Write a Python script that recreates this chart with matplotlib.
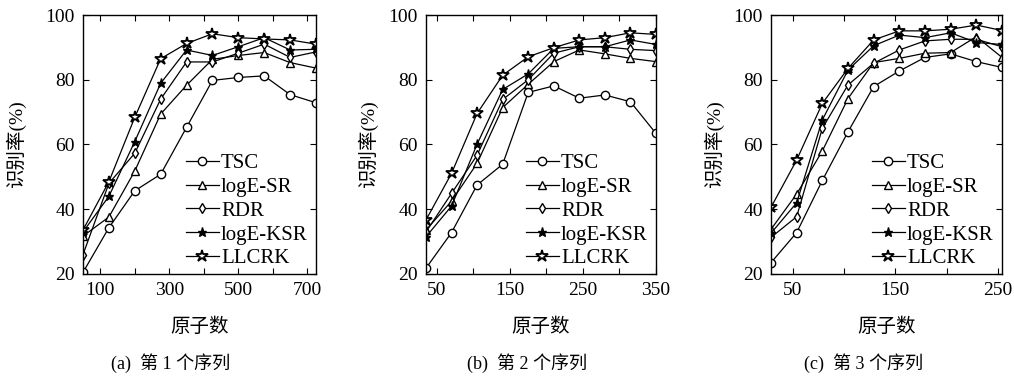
import matplotlib
matplotlib.use("Agg")
import matplotlib.pyplot as plt

plt.rcParams['font.family'] = ['Liberation Serif', 'Noto Sans CJK SC']

# data
x_a = [50, 125, 200, 275, 350, 425, 500, 575, 650, 725]
a_tsc = [20.5, 34.3, 45.7, 50.8, 65.3, 79.8, 80.7, 81.2, 75.4, 72.9]
a_sr = [31.7, 37.6, 51.8, 69.4, 78.3, 86.3, 87.5, 88.4, 85.3, 83.6]
a_rdr = [26.0, 48.0, 57.3, 74.0, 85.5, 85.5, 88.2, 91.0, 86.9, 88.6]
a_ksr = [33.0, 44.0, 60.9, 78.9, 89.2, 87.5, 90.2, 93.0, 89.2, 89.4]
a_llc = [33.6, 48.5, 68.4, 86.5, 91.2, 94.2, 93.0, 92.6, 92.3, 91.0]

x_b = [35, 70, 105, 140, 175, 210, 245, 280, 315, 350]
b_tsc = [21.8, 32.8, 47.5, 53.9, 76.1, 78.1, 74.3, 75.3, 73.2, 63.4]
b_sr = [33.6, 42.5, 54.2, 71.4, 78.6, 85.6, 89.2, 88.0, 86.6, 85.6]
b_rdr = [33.0, 44.9, 56.7, 73.9, 80.0, 88.2, 90.2, 90.2, 89.4, 89.0]
b_ksr = [31.5, 41.0, 60.1, 77.0, 81.8, 89.7, 90.2, 90.2, 92.3, 90.9]
b_llc = [36.7, 51.1, 69.6, 81.4, 87.1, 89.9, 92.3, 93.0, 94.5, 94.0]

x_c = [29, 54, 79, 104, 129, 154, 179, 204, 229, 254]
c_tsc = [23.5, 32.8, 48.9, 63.9, 77.9, 82.7, 86.9, 88.0, 85.6, 83.8]
c_sr = [33.8, 44.7, 58.0, 74.2, 85.3, 86.6, 88.2, 88.4, 93.3, 86.9]
c_rdr = [31.3, 37.7, 65.0, 78.4, 85.1, 89.2, 92.0, 92.5, 92.5, 90.2]
c_ksr = [32.6, 42.0, 67.6, 83.0, 90.5, 93.8, 93.0, 94.5, 91.5, 90.9]
c_llc = [40.6, 55.2, 72.7, 83.5, 92.3, 95.1, 95.1, 95.6, 96.9, 95.2]

namen = ['TSC', 'logE-SR', 'RDR', 'logE-KSR', 'LLCRK']
stil = [
    dict(marker='o', ms=6, mfc='white'),
    dict(marker='^', ms=6, mfc='white'),
    dict(marker='d', ms=5.5, mfc='white'),
    dict(marker='*', ms=6.5, mfc='black'),
    dict(marker='*', ms=9, mfc='white', mew=1.3),
]

paneler = [
    (x_a, [a_tsc, a_sr, a_rdr, a_ksr, a_llc], [50, 725], range(100, 701, 100), [100, 300, 500, 700], '(a)  第 1 个序列'),
    (x_b, [b_tsc, b_sr, b_rdr, b_ksr, b_llc], [35, 350], range(50, 351, 50), [50, 150, 250, 350], '(b)  第 2 个序列'),
    (x_c, [c_tsc, c_sr, c_rdr, c_ksr, c_llc], [29, 254], range(50, 251, 50), [50, 150, 250], '(c)  第 3 个序列'),
]

# axes position in pixels: left, right, y-label centre, caption centre
px = [(83, 316, 18, 171), (426, 656, 370, 527), (771, 1002, 716, 864)]

W, H = 1014, 383
fig = plt.figure(figsize=(W / 100, H / 100), dpi=100)

for (x, serier, xlim, ticks, labels, tittel), (l, r, ylx, capx) in zip(paneler, px):
    ax = fig.add_axes([l / W, (H - 274) / H, (r - l) / W, 259 / H])
    for y, navn, s in zip(serier, namen, stil):
        ax.plot(x, y, color='black', lw=0.9, mec='black', label=navn, **s)
    ax.set_xlim(xlim)
    ax.set_ylim(20, 100)
    ax.set_yticks([20, 40, 60, 80, 100])
    ax.set_xticks(list(ticks))
    ax.set_xticklabels([str(t) if t in labels else '' for t in ticks])
    ax.tick_params(direction='in', top=True, right=True, labelsize=14, length=4, pad=6)
    for sp in ax.spines.values():
        sp.set_linewidth(1.0)
    ax.set_ylabel('识别率(%)', fontsize=14)
    # the label is anchored at its right side, so add half its width
    ax.yaxis.set_label_coords((ylx + 8 - l) / (r - l), 0.5)
    fig.text((l + r) / 2 / W, 1 - 327 / H, '原子数', ha='center', va='center', fontsize=14)
    fig.text(capx / W, 1 - 363 / H, tittel, ha='center', va='center', fontsize=13)
    ax.legend(loc='lower right', frameon=False, fontsize=15, handlelength=1.6,
              handletextpad=0.1, labelspacing=0.2, borderaxespad=0.0,
              bbox_to_anchor=(1.0, -0.01))

fig.savefig('out.png', dpi=100)
